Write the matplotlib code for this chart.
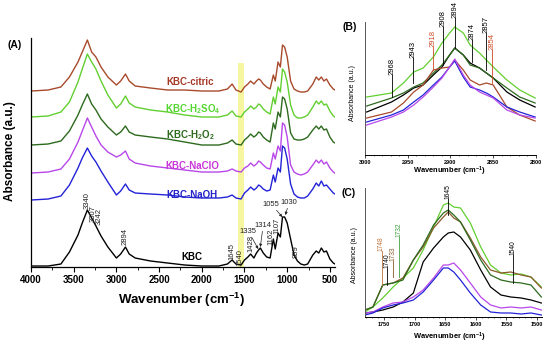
import matplotlib
matplotlib.use('Agg')
import matplotlib.pyplot as plt
from matplotlib.ticker import MultipleLocator

plt.rcParams['font.family'] = ['Liberation Sans', 'DejaVu Sans']
plt.rcParams['mathtext.fontset'] = 'custom'
plt.rcParams['mathtext.rm'] = 'Liberation Sans:bold'
plt.rcParams['mathtext.it'] = 'Liberation Sans:bold'
plt.rcParams['mathtext.bf'] = 'Liberation Sans:bold'
plt.rcParams['mathtext.default'] = 'rm'

# ---------------- Panel A data (offset absorbance, a.u.) ----------------
wn_A = [4000, 3800, 3650, 3550, 3450, 3400, 3340, 3290, 3240, 3180, 3100, 3000, 2950, 2894,
        2850, 2780, 2600, 2400, 2200, 2000, 1800, 1700, 1645, 1600, 1540, 1500, 1460, 1428,
        1390, 1360, 1335, 1314, 1280, 1240, 1200, 1162, 1140, 1107, 1080, 1055, 1030, 1000,
        960, 920, 880, 840, 800, 760, 700, 660, 630, 600, 570, 540, 500, 460, 440]
kbc_A = [1, 1, 3, 15, 32, 44, 57, 49, 41, 31, 20, 9, 13, 20, 13, 9, 6, 4, 2, 1, 1, 3, 7, 3, 2,
         7, 10, 13, 9, 14, 17, 19, 14, 10, 9, 28, 18, 34, 30, 50, 50, 44, 28, 12, 6, 3, 2, 3,
         12, 16, 14, 19, 15, 16, 8, 4, 3]
naoh_A = [67, 68, 71, 82, 99, 109, 119, 111, 105, 96, 85, 72, 76, 83, 77, 74, 73, 72, 70, 69,
          69, 70, 72, 69, 68, 74, 77, 80, 77, 79, 82, 81, 78, 76, 77, 92, 85, 99, 95, 121, 119,
          108, 83, 73, 70, 69, 69, 71, 78, 84, 81, 86, 81, 82, 78, 74, 73]
naclo_A = [94, 95, 98, 108, 125, 136, 149, 140, 131, 122, 115, 110, 112, 116, 108, 104, 101, 99,
           97, 95, 95, 96, 98, 96, 95, 99, 101, 104, 101, 103, 106, 105, 102, 99, 98, 114, 108,
           121, 116, 144, 142, 130, 102, 95, 93, 92, 93, 95, 102, 107, 104, 107, 103, 105, 99,
           95, 94]
h2o2_A = [122, 123, 126, 136, 152, 162, 173, 163, 157, 148, 140, 132, 135, 141, 135, 132, 130,
          128, 125, 122, 122, 124, 127, 123, 122, 127, 130, 133, 130, 132, 135, 134, 130, 127,
          125, 144, 138, 155, 150, 170, 168, 158, 134, 128, 127, 127, 128, 130, 137, 141, 138,
          141, 137, 138, 130, 125, 124]
h2so4_A = [150, 151, 155, 165, 185, 198, 213, 205, 198, 186, 172, 159, 163, 171, 164, 160, 157,
           155, 152, 150, 150, 152, 156, 151, 150, 155, 158, 161, 158, 160, 163, 162, 158, 155,
           153, 170, 163, 180, 175, 198, 195, 185, 162, 152, 149, 149, 150, 152, 160, 166, 163,
           166, 162, 163, 156, 151, 150]
citric_A = [176, 177, 180, 190, 205, 215, 227, 215, 210, 200, 190, 182, 186, 193, 186, 181, 179,
            177, 177, 176, 176, 178, 183, 177, 175, 180, 183, 186, 183, 186, 188, 187, 183, 180,
            178, 192, 186, 205, 200, 222, 220, 210, 186, 178, 176, 175, 175, 176, 183, 190, 187,
            190, 186, 188, 182, 178, 177]

# ---------------- Panel B data ----------------
wn_B = [2998, 2969, 2955, 2943, 2932, 2920, 2910, 2901, 2895, 2885, 2877, 2866, 2858, 2850,
        2834, 2819, 2801]
h2so4_B = [58, 62, 72, 83, 87, 98, 112, 122, 128, 122, 110, 102, 95, 88, 75, 65, 57]
kbc_B = [43, 53, 60, 67, 70, 80, 88, 100, 107, 100, 92, 87, 82, 77, 63, 55, 48]
h2o2_B = [49, 57, 62, 68, 72, 82, 90, 100, 107, 100, 90, 87, 82, 77, 67, 58, 52]
citric_B = [37, 43, 52, 63, 70, 85, 87, 88, 95, 85, 75, 70, 72, 70, 48, 40, 34]
naoh_B = [33, 40, 45, 53, 60, 70, 78, 88, 94, 78, 68, 65, 62, 58, 48, 43, 38]
naclo_B = [30, 38, 43, 50, 58, 68, 77, 88, 96, 80, 70, 63, 60, 57, 45, 40, 37]

# ---------------- Panel C data ----------------
wn_C = [1781, 1768, 1752, 1735, 1719, 1702, 1686, 1669, 1653, 1645, 1636, 1625, 1609, 1592,
        1576, 1559, 1543, 1526, 1510, 1493]
h2so4_C = [5, 10, 19, 30, 39, 49, 67, 90, 112, 114, 110, 109, 94, 70, 52, 44, 42, 43, 40, 30]
citric_C = [7, 10, 32, 34, 39, 57, 70, 89, 100, 105, 99, 95, 79, 60, 47, 44, 45, 42, 40, 29]
h2o2_C = [7, 10, 32, 34, 37, 57, 72, 92, 104, 107, 102, 95, 77, 57, 42, 37, 35, 34, 32, 20]
kbc_C = [4, 5, 7, 10, 15, 24, 55, 69, 80, 84, 85, 80, 67, 47, 30, 22, 20, 19, 17, 14]
naclo_C = [4, 5, 10, 14, 15, 20, 27, 39, 52, 52, 54, 47, 34, 20, 12, 9, 10, 9, 10, 7]
naoh_C = [2, 4, 9, 12, 14, 17, 25, 37, 49, 49, 45, 37, 24, 12, 5, 4, 4, 3, 4, 2]

series_names = ['KBC', 'KBC-NaOH', 'KBC-NaClO', 'KBC-H$_2$O$_2$', 'KBC-H$_2$SO$_4$', 'KBC-citric']
ticks_A = [4000, 3500, 3000, 2500, 2000, 1500, 1000, 500]
ticks_B = [3000, 2950, 2900, 2850, 2800]
ticks_C = [1750, 1700, 1650, 1600, 1550, 1500]

COL = {'KBC': '#000000', 'NaOH': '#2323d8', 'NaClO': '#b847ea', 'H2O2': '#2d6a1e',
       'H2SO4': '#62cf30', 'citric': '#a84a2c'}
TXT = {'KBC': '#000000', 'NaOH': '#2323c8', 'NaClO': '#c836d8', 'H2O2': '#2d6a1e',
       'H2SO4': '#55d630', 'citric': '#a83a2a'}

fig = plt.figure(figsize=(5.5, 3.44), dpi=100)

# ---------------- Panel A ----------------
axA = fig.add_axes([0.0564, 0.2238, 0.5527, 0.6657])
axA.axvspan(1578, 1505, ymin=0, ymax=204 / 229, color='#f6f6a0', lw=0, zorder=0)
lw = 1.0
axA.plot(wn_A, kbc_A, color=COL['KBC'], lw=lw)
axA.plot(wn_A, naoh_A, color=COL['NaOH'], lw=lw)
axA.plot(wn_A, naclo_A, color=COL['NaClO'], lw=lw)
axA.plot(wn_A, h2o2_A, color=COL['H2O2'], lw=lw)
axA.plot(wn_A, h2so4_A, color=COL['H2SO4'], lw=lw)
axA.plot(wn_A, citric_A, color=COL['citric'], lw=lw)
axA.set_xlim(4000, 440)
axA.set_ylim(0, 229)
axA.set_xticks(ticks_A)
axA.set_xticklabels([str(t) for t in ticks_A], fontsize=7, fontweight='bold')
axA.xaxis.set_minor_locator(MultipleLocator(250))
axA.tick_params(axis='x', which='major', length=3.5, width=0.8, pad=2)
axA.tick_params(axis='x', which='minor', length=2, width=0.6)
axA.set_yticks([])
for s in ['top', 'right']:
    axA.spines[s].set_visible(False)
for s in ['left', 'bottom']:
    axA.spines[s].set_linewidth(0.9)

lab_kw = dict(fontsize=7, fontweight='bold', ha='center', va='center')
axA.text(2136, 185, series_names[5], color=TXT['citric'], **lab_kw)
axA.text(2100, 158, series_names[4], color=TXT['H2SO4'], **lab_kw)
axA.text(2136, 132, series_names[3], color=TXT['H2O2'], **lab_kw)
axA.text(2113, 101, series_names[2], color=TXT['NaClO'], **lab_kw)
axA.text(2113, 72, series_names[1], color=TXT['NaOH'], **lab_kw)
axA.text(2113, 10, series_names[0], color=TXT['KBC'], **lab_kw)

ann_kw = dict(fontsize=5.5, rotation=90, ha='center', va='bottom', color='#222222')
for lbl, w, h in [('3340', 3343, 58), ('3307', 3273, 45), ('3242', 3203, 42),
                  ('2894', 2898, 22), ('1645', 1644, 7), ('1540', 1550, 1),
                  ('1428', 1421, 15), ('1162', 1190, 22), ('1107', 1120, 33), ('899', 893, 9)]:
    axA.text(w, h, lbl, **ann_kw)
arr = dict(arrowstyle='-|>', lw=0.5, color='#222222', mutation_scale=4, shrinkA=0, shrinkB=0)
axA.annotate('1335', xy=(1339, 18), xytext=(1456, 36), fontsize=5.5, ha='center', va='center',
             color='#222222', arrowprops=arr)
axA.annotate('1314', xy=(1315, 20), xytext=(1280, 42), fontsize=5.5, ha='center', va='center',
             color='#222222', arrowprops=arr)
axA.annotate('1055', xy=(1058, 50), xytext=(1186, 63), fontsize=5.5, ha='center', va='center',
             color='#222222', arrowprops=arr)
axA.annotate('1030', xy=(1022, 52), xytext=(975, 65), fontsize=5.5, ha='center', va='center',
             color='#222222', arrowprops=arr)

fig.text(0.027, 0.869, '(A)', fontsize=7.5, fontweight='bold', ha='center', va='center')
fig.text(0.331, 0.128, 'Wavenumber (cm$^{-1}$)', fontsize=9.5, fontweight='bold',
         ha='center', va='center')
fig.text(0.018, 0.56, 'Absorbance (a.u.)', fontsize=8.5, fontweight='bold', rotation=90,
         ha='center', va='center')

# ---------------- Panel B ----------------
axB = fig.add_axes([0.6636, 0.5494, 0.3109, 0.3866])
lw2 = 0.9
axB.plot(wn_B, h2so4_B, color=COL['H2SO4'], lw=lw2)
axB.plot(wn_B, kbc_B, color=COL['KBC'], lw=lw2)
axB.plot(wn_B, h2o2_B, color=COL['H2O2'], lw=lw2)
axB.plot(wn_B, citric_B, color=COL['citric'], lw=lw2)
axB.plot(wn_B, naoh_B, color=COL['NaOH'], lw=lw2)
axB.plot(wn_B, naclo_B, color=COL['NaClO'], lw=lw2)
axB.set_xlim(3000, 2800)
axB.set_ylim(0, 133)
axB.set_xticks(ticks_B)
axB.set_xticklabels([str(t) for t in ticks_B], fontsize=4, fontweight='bold')
axB.xaxis.set_minor_locator(MultipleLocator(10))
axB.tick_params(axis='x', which='major', length=2, width=0.5, pad=1.5)
axB.tick_params(axis='x', which='minor', length=1, width=0.4)
axB.set_yticks([])
for s in ['top', 'right']:
    axB.spines[s].set_visible(False)
axB.spines['left'].set_color('#555555')
for s in ['left', 'bottom']:
    axB.spines[s].set_linewidth(0.7)

RED = '#d04a25'
for lbl, w, h0, h1, c in [('2968', 2968, 58, 80, 'k'), ('2943', 2944, 72, 97, 'k'),
                          ('2918', 2920, 85, 108, RED), ('2908', 2909, 90, 128, 'k'),
                          ('2894', 2895, 107, 137, 'k'), ('2874', 2875, 93, 115, 'k'),
                          ('2857', 2858, 85, 122, 'k'), ('2854', 2851, 72, 105, RED)]:
    axB.plot([w, w], [h0, h1], color=c, lw=0.6, clip_on=False)
    axB.text(w, h1, lbl, fontsize=5.5, rotation=90, ha='center', va='bottom', color=c,
             clip_on=False)

fig.text(0.636, 0.9215, '(B)', fontsize=7.5, fontweight='bold', ha='center', va='center')
fig.text(0.818, 0.503, 'Wavenumber (cm$^{-1}$)', fontsize=5.4, fontweight='bold',
         ha='center', va='center')
fig.text(0.64, 0.73, 'Absorbance (a.u.)', fontsize=5, rotation=90, ha='center', va='center')

# ---------------- Panel C ----------------
axC = fig.add_axes([0.6636, 0.0785, 0.3218, 0.375])
axC.plot(wn_C, h2so4_C, color=COL['H2SO4'], lw=lw2)
axC.plot(wn_C, citric_C, color='#8b5a2b', lw=lw2)
axC.plot(wn_C, h2o2_C, color=COL['H2O2'], lw=lw2)
axC.plot(wn_C, kbc_C, color=COL['KBC'], lw=lw2)
axC.plot(wn_C, naclo_C, color=COL['NaClO'], lw=lw2)
axC.plot(wn_C, naoh_C, color=COL['NaOH'], lw=lw2)
axC.set_xlim(1781, 1492)
axC.set_ylim(0, 129)
axC.set_xticks(ticks_C)
axC.set_xticklabels([str(t) for t in ticks_C], fontsize=4, fontweight='bold')
axC.xaxis.set_minor_locator(MultipleLocator(10))
axC.tick_params(axis='x', which='major', length=2, width=0.5, pad=1.5)
axC.tick_params(axis='x', which='minor', length=1, width=0.4)
axC.set_yticks([])
for s in ['top', 'right']:
    axC.spines[s].set_visible(False)
axC.spines['left'].set_color('#555555')
for s in ['left', 'bottom']:
    axC.spines[s].set_linewidth(0.7)

for lbl, w, h0, h1, c in [('1748', 1754, 32, 66, '#c0703a'), ('1740', 1745, 32, 49, 'k'),
                          ('1733', 1736, 40, 56, '#8b5a2b'), ('1732', 1726, 40, 80, '#3f9f3f'),
                          ('1645', 1645, 102, 118, 'k'), ('1540', 1540, 34, 62, 'k')]:
    axC.plot([w, w], [h0, h1], color=c, lw=0.6, clip_on=False)
    axC.text(w, h1, lbl, fontsize=4.8, rotation=90, ha='center', va='bottom', color=c,
             clip_on=False)

fig.text(0.633, 0.439, '(C)', fontsize=7.5, fontweight='bold', ha='center', va='center')
fig.text(0.818, 0.02, 'Wavenumber (cm$^{-1}$)', fontsize=5.4, fontweight='bold',
         ha='center', va='center')
fig.text(0.645, 0.26, 'Absorbance (a.u.)', fontsize=5, rotation=90, ha='center', va='center')

fig.savefig('out.png', dpi=100)
